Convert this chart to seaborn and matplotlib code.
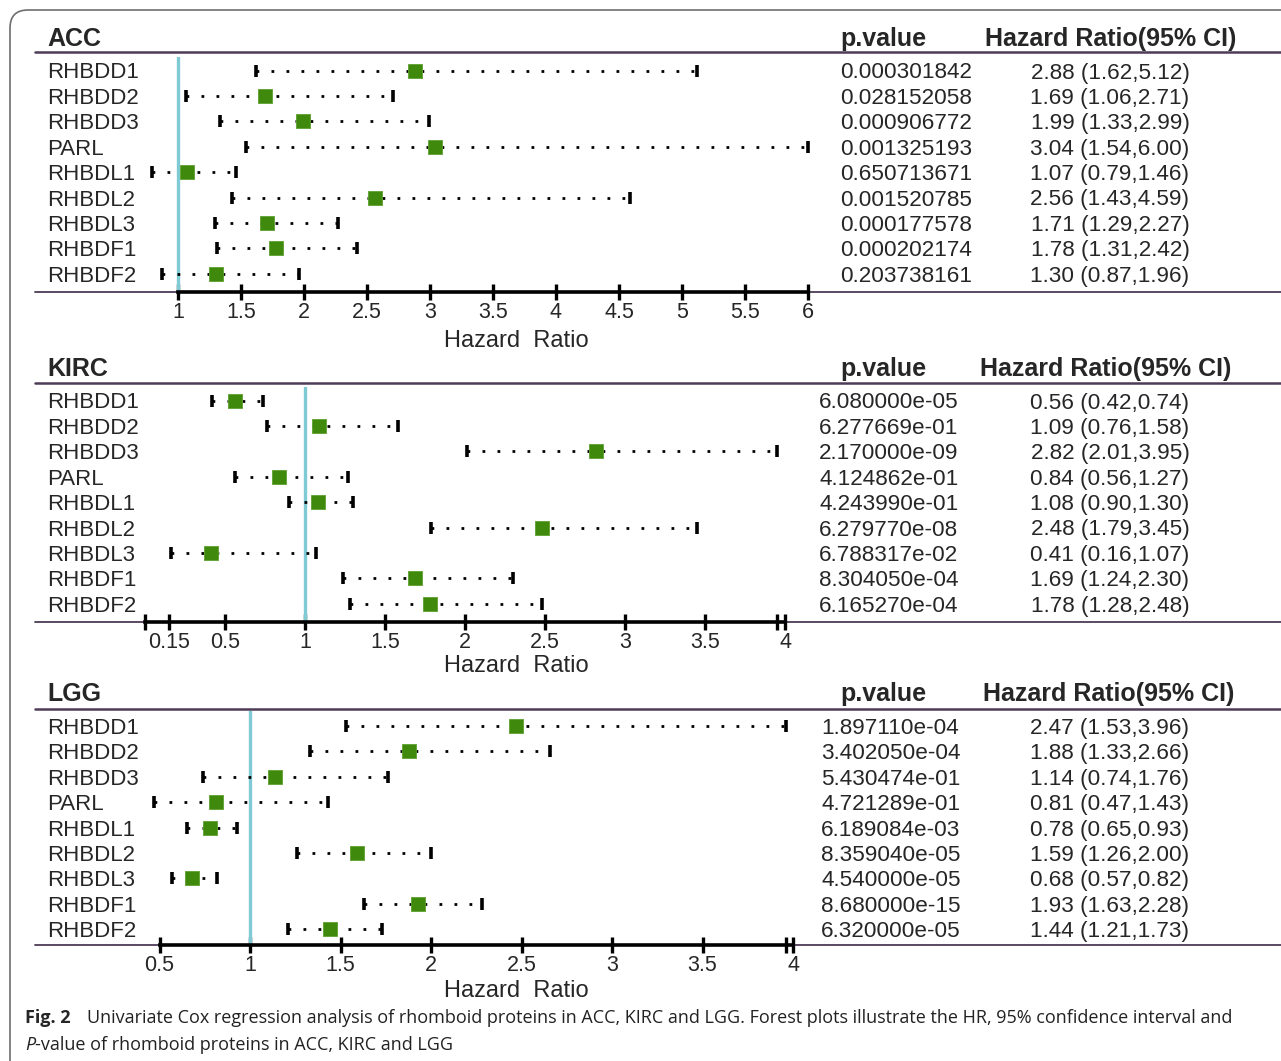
import matplotlib
matplotlib.use("Agg")
import matplotlib.pyplot as plt
import matplotlib.transforms as mtransforms
from matplotlib.lines import Line2D
from matplotlib.patches import FancyBboxPatch
import seaborn as sns

# data
genes = ["RHBDD1", "RHBDD2", "RHBDD3", "PARL", "RHBDL1", "RHBDL2", "RHBDL3", "RHBDF1", "RHBDF2"]

acc_hr = [2.88, 1.69, 1.99, 3.04, 1.07, 2.56, 1.71, 1.78, 1.30]
acc_lo = [1.62, 1.06, 1.33, 1.54, 0.79, 1.43, 1.29, 1.31, 0.87]
acc_hi = [5.12, 2.71, 2.99, 6.00, 1.46, 4.59, 2.27, 2.42, 1.96]
acc_p = ["0.000301842", "0.028152058", "0.000906772", "0.001325193", "0.650713671",
         "0.001520785", "0.000177578", "0.000202174", "0.203738161"]

kirc_hr = [0.56, 1.09, 2.82, 0.84, 1.08, 2.48, 0.41, 1.69, 1.78]
kirc_lo = [0.42, 0.76, 2.01, 0.56, 0.90, 1.79, 0.16, 1.24, 1.28]
kirc_hi = [0.74, 1.58, 3.95, 1.27, 1.30, 3.45, 1.07, 2.30, 2.48]
kirc_p = ["6.080000e-05", "6.277669e-01", "2.170000e-09", "4.124862e-01", "4.243990e-01",
          "6.279770e-08", "6.788317e-02", "8.304050e-04", "6.165270e-04"]

lgg_hr = [2.47, 1.88, 1.14, 0.81, 0.78, 1.59, 0.68, 1.93, 1.44]
lgg_lo = [1.53, 1.33, 0.74, 0.47, 0.65, 1.26, 0.57, 1.63, 1.21]
lgg_hi = [3.96, 2.66, 1.76, 1.43, 0.93, 2.00, 0.82, 2.28, 1.73]
lgg_p = ["1.897110e-04", "3.402050e-04", "5.430474e-01", "4.721289e-01", "6.189084e-03",
         "8.359040e-05", "4.540000e-05", "8.680000e-15", "6.320000e-05"]

acc_ticks = [1, 1.5, 2, 2.5, 3, 3.5, 4, 4.5, 5, 5.5, 6]
acc_ticklabels = ["1", "1.5", "2", "2.5", "3", "3.5", "4", "4.5", "5", "5.5", "6"]
kirc_ticks = [0, 0.15, 0.5, 1, 1.5, 2, 2.5, 3, 3.5, 3.95, 4]
kirc_ticklabels = ["", "0.15", "0.5", "1", "1.5", "2", "2.5", "3", "3.5", "", "4"]
lgg_ticks = [0.5, 1, 1.5, 2, 2.5, 3, 3.5, 3.96, 4]
lgg_ticklabels = ["0.5", "1", "1.5", "2", "2.5", "3", "3.5", "", "4"]

W, H = 1281, 1061
GREEN = "#3f8a0c"
BLUE = "#7fcad4"
PURPLE = "#4d3a57"

sns.set_style("white")
plt.rcParams["font.family"] = ["Liberation Sans", "DejaVu Sans"]

fig = plt.figure(figsize=(W / 100, H / 100), dpi=100)
# image pixel coordinates (origin top-left)
P = mtransforms.Affine2D().scale(1 / W, -1 / H).translate(0, 1) + fig.transFigure

# panel layout in pixels
panels = [
    dict(name="ACC", hr=acc_hr, lo=acc_lo, hi=acc_hi, p=acc_p,
         ticks=acc_ticks, labels=acc_ticklabels, xr=(1, 6),
         r0=70.5, top=57, bottom=292, title_y=39, line_y=52,
         a=((178, 1), (808, 6)), xlab_y=341, p_x=840, hp_x=840, hci_x=985),
    dict(name="KIRC", hr=kirc_hr, lo=kirc_lo, hi=kirc_hi, p=kirc_p,
         ticks=kirc_ticks, labels=kirc_ticklabels, xr=(0, 4),
         r0=400.5, top=387, bottom=622, title_y=369, line_y=383,
         a=((305, 1), (785, 4)), xlab_y=666, p_x=819, hp_x=840, hci_x=980),
    dict(name="LGG", hr=lgg_hr, lo=lgg_lo, hi=lgg_hi, p=lgg_p,
         ticks=lgg_ticks, labels=lgg_ticklabels, xr=(0.5, 4),
         r0=726, top=711, bottom=945, title_y=694, line_y=709,
         a=((250, 1), (793, 4)), xlab_y=991, p_x=821, hp_x=840, hci_x=983),
]

STEP = 25.4
AX_L, AX_R = 140, 815
down = mtransforms.ScaledTranslation(0, -2.5 / 100, fig.dpi_scale_trans)

for pn in panels:
    (p1, v1), (p2, v2) = pn["a"]
    sc = (p2 - p1) / (v2 - v1)
    x0 = v1 + (AX_L - p1) / sc
    x1 = v1 + (AX_R - p1) / sc
    ax = fig.add_axes([AX_L / W, 1 - pn["bottom"] / H,
                       (AX_R - AX_L) / W, (pn["bottom"] - pn["top"]) / H])
    ax.set_facecolor("none")
    ax.set_xlim(x0, x1)
    ax.set_ylim((pn["bottom"] - pn["r0"]) / STEP, (pn["top"] - pn["r0"]) / STEP)

    rows = list(range(len(genes)))
    ax.axvline(1, color=BLUE, lw=2.4, zorder=1)
    for r, lo, hi in zip(rows, pn["lo"], pn["hi"]):
        ax.plot([lo, hi], [r, r], color="black", lw=2.0,
                linestyle=(0, (1, 4.4)), dash_capstyle="butt", zorder=2)
    ax.plot(pn["lo"], rows, "|", color="black", ms=8, mew=2.6, zorder=3)
    ax.plot(pn["hi"], rows, "|", color="black", ms=8, mew=2.6, zorder=3)
    sns.scatterplot(x=pn["hr"], y=rows, marker="s", s=95, color=GREEN,
                    edgecolor="#5fa030", linewidth=0.6, ax=ax, zorder=4)

    for s in ["top", "left", "right"]:
        ax.spines[s].set_visible(False)
    ax.spines["bottom"].set_bounds(*pn["xr"])
    ax.spines["bottom"].set_linewidth(2.6)
    ax.spines["bottom"].set_color("black")
    ax.spines["bottom"].set_zorder(5)
    ax.set_yticks([])
    ax.set_xticks(pn["ticks"])
    ax.set_xticklabels(pn["labels"], fontsize=15.5)
    ax.tick_params(axis="x", bottom=True, direction="inout", length=11, width=2.4,
                   pad=2, color="black")

    # row texts tied to the data rows
    bt = mtransforms.blended_transform_factory(P, ax.transData) + down
    for r, g, pv, hr, lo, hi in zip(rows, genes, pn["p"], pn["hr"], pn["lo"], pn["hi"]):
        ax.text(47, r, g, transform=bt, fontsize=16, va="center", ha="left", clip_on=False)
        ax.text(pn["p_x"], r, pv, transform=bt, fontsize=16.2, va="center", ha="left", clip_on=False)
        ax.text(1110, r, f"{hr:.2f} ({lo:.2f},{hi:.2f})", transform=bt, fontsize=16.2,
                va="center", ha="center", clip_on=False)

    ax.text(47, pn["title_y"], pn["name"], transform=P, fontsize=18, fontweight="bold",
            va="center", ha="left")
    ax.text(pn["hp_x"], pn["title_y"], "p.value", transform=P, fontsize=18,
            fontweight="bold", va="center", ha="left")
    ax.text(pn["hci_x"], pn["title_y"], "Hazard Ratio(95% CI)", transform=P, fontsize=18,
            fontweight="bold", va="center", ha="left")
    ax.text(516, pn["xlab_y"], "Hazard  Ratio", transform=P, fontsize=17,
            va="center", ha="center")

    fig.add_artist(Line2D([35, W], [pn["line_y"], pn["line_y"]], transform=P,
                          color=PURPLE, lw=1.8, zorder=-1))
    fig.add_artist(Line2D([35, W], [pn["bottom"], pn["bottom"]], transform=P,
                          color=PURPLE, lw=1.3, zorder=-1))

# rounded frame
fig.add_artist(FancyBboxPatch((10, 10), 1400, 1200, boxstyle="round,pad=0,rounding_size=18",
                              transform=P, fill=False, edgecolor="#6e6e6e", lw=1.2, zorder=-2))

# caption
cap_font = ["Liberation Sans Narrow", "Open Sans", "DejaVu Sans"]
renderer = fig.canvas.get_renderer()
t_fig = fig.text(25 / W, 1 - 1018 / H, "Fig. 2", fontsize=14, fontweight="bold",
                 family=cap_font, va="center", ha="left")
bb = t_fig.get_window_extent(renderer)
x_start = bb.x1 + 12
line1 = ("Univariate Cox regression analysis of rhomboid proteins in ACC, KIRC and LGG. "
         "Forest plots illustrate the HR, 95% confidence interval and")
t1 = fig.text(x_start / W, 1 - 1018 / H, line1, fontsize=14, family=cap_font,
              va="center", ha="left", color="#222222")
w1 = t1.get_window_extent(renderer).width
t1.set_fontsize(14 * (1240 - x_start) / w1)
fs = t1.get_fontsize()
t_fig.set_fontsize(fs)
tp = fig.text(25 / W, 1 - 1045 / H, "P", fontsize=fs, family=cap_font, style="italic",
              va="center", ha="left", color="#222222")
bp = tp.get_window_extent(renderer)
fig.text(bp.x1 / W, 1 - 1045 / H, "-value of rhomboid proteins in ACC, KIRC and LGG",
         fontsize=fs, family=cap_font, va="center", ha="left", color="#222222")

fig.savefig("out.png", dpi=100)
